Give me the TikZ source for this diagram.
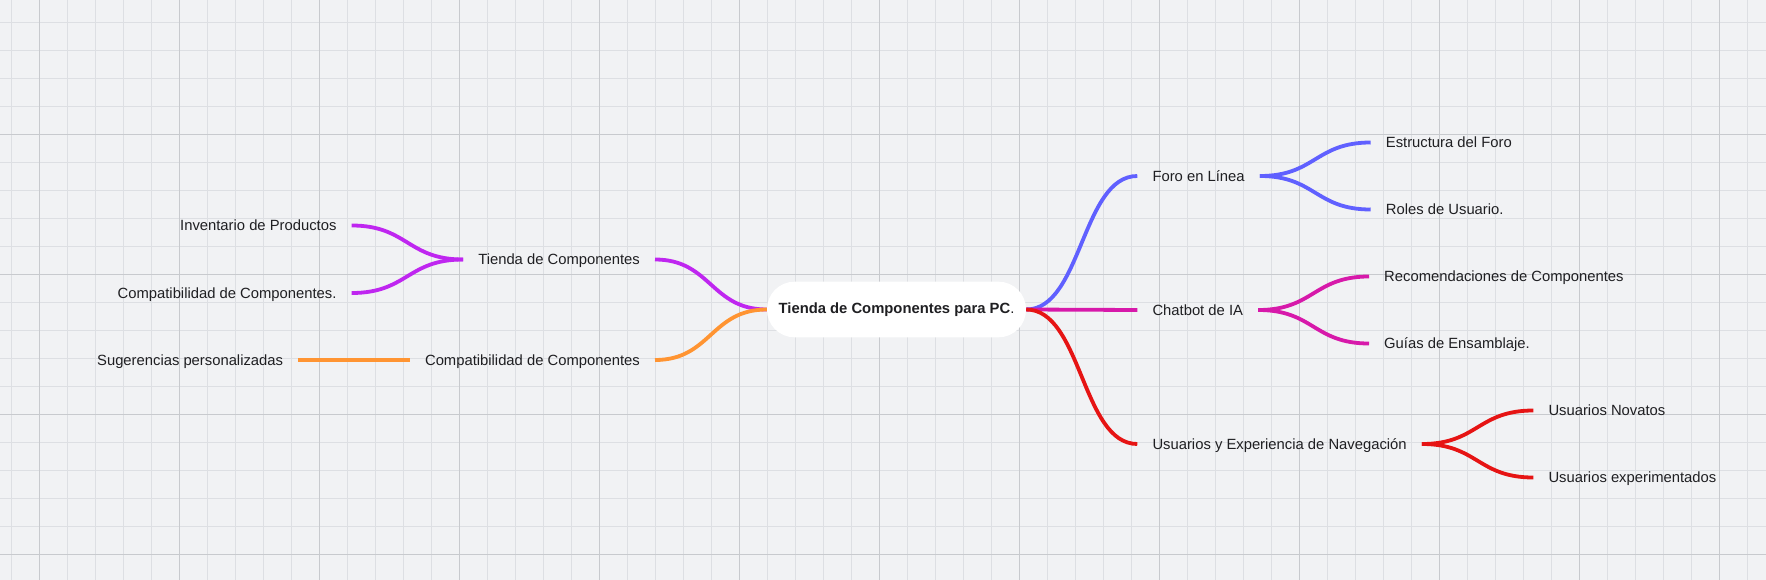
\documentclass[tikz,border=0pt]{standalone}
\usepackage{fontspec}
\setmainfont{Liberation Sans}
\usetikzlibrary{calc}
\definecolor{bgc}{HTML}{F1F2F4}
\definecolor{minorc}{HTML}{DDDFE3}
\definecolor{majorc}{HTML}{C8CACE}
\definecolor{txtc}{HTML}{1F1F22}
\definecolor{cpurple}{RGB}{191,38,240}
\definecolor{corange}{RGB}{255,148,50}
\definecolor{cblue}{RGB}{96,96,255}
\definecolor{cmagenta}{RGB}{215,25,170}
\definecolor{cred}{RGB}{230,20,20}
\tikzset{
  lbl/.style={inner xsep=15pt, inner ysep=0pt, text height=10.5pt, text depth=0pt,
    font=\fontsize{14.8}{17}\selectfont, text=txtc},
  rootbox/.style={fill=white, rounded corners=27.5pt, minimum width=259pt,
    minimum height=55.6pt, inner sep=0pt, font=\fontsize{14.8}{17}\selectfont, text=txtc},
  sc/.style={to path={let \p1=(\tikztostart), \p2=(\tikztotarget) in
    .. controls ({(\x1+\x2)/2},\y1) and ({(\x1+\x2)/2},\y2) .. (\tikztotarget)}},
  conn/.style={line width=3.8pt},
  minorline/.style={draw=minorc, line width=0.9pt},
  majorline/.style={draw=majorc, line width=1.1pt}
}
\begin{document}
\begin{tikzpicture}[x=1pt, y=-1pt]
\useasboundingbox (0,0) rectangle (1766,580);
\fill[bgc] (0,0) rectangle (1766,580);
\foreach \i in {0,...,62} \draw[minorline] ({11.3+28*\i},0) -- ({11.3+28*\i},580);
\foreach \i in {0,...,19} \draw[minorline] (0,{22.3+28*\i}) -- (1766,{22.3+28*\i});
\foreach \i in {0,...,12} \draw[majorline] ({39.3+140*\i},0) -- ({39.3+140*\i},580);
\foreach \i in {0,...,3} \draw[majorline] (0,{134.3+140*\i}) -- (1766,{134.3+140*\i});

% root
\node[rootbox] (root) at (896.5,309.5) {\textbf{Tienda de Componentes para PC}.};

% left side
\node[lbl, anchor=east] (tienda) at (655,259.5) {Tienda de Componentes};
\node[lbl, anchor=east] (compat) at (655,360) {Compatibilidad de Componentes};
\node[lbl, anchor=east] (invent) at (351.7,225.5) {Inventario de Productos};
\node[lbl, anchor=east] (compat2) at (351.7,293) {Compatibilidad de Componentes.};
\node[lbl, anchor=east] (suger) at (298.3,360) {Sugerencias personalizadas};

% right side
\node[lbl, anchor=west] (foro) at (1137.3,176) {Foro en Línea};
\node[lbl, anchor=west] (chat) at (1137.3,310) {Chatbot de IA};
\node[lbl, anchor=west] (usu) at (1137.3,444) {Usuarios y Experiencia de Navegación};
\node[lbl, anchor=west] (estr) at (1370.7,142.5) {Estructura del Foro};
\node[lbl, anchor=west] (roles) at (1370.7,209.5) {Roles de Usuario.};
\node[lbl, anchor=west] (recom) at (1369,276.5) {Recomendaciones de Componentes};
\node[lbl, anchor=west] (guias) at (1369,343.5) {Guías de Ensamblaje.};
\node[lbl, anchor=west] (nov) at (1533.3,410.5) {Usuarios Novatos};
\node[lbl, anchor=west] (exp) at (1533.3,477.5) {Usuarios experimentados};

% connectors
\draw[conn, cpurple] (root.west) to[sc] (tienda.east);
\draw[conn, cpurple] (tienda.west) to[sc] (invent.east);
\draw[conn, cpurple] (tienda.west) to[sc] (compat2.east);
\draw[conn, corange] (root.west) to[sc] (compat.east);
\draw[conn, corange] (compat.west) to[sc] (suger.east);

\draw[conn, cblue] (root.east) to[sc] (foro.west);
\draw[conn, cblue] (foro.east) to[sc] (estr.west);
\draw[conn, cblue] (foro.east) to[sc] (roles.west);
\draw[conn, cmagenta] (root.east) to[sc] (chat.west);
\draw[conn, cmagenta] (chat.east) to[sc] (recom.west);
\draw[conn, cmagenta] (chat.east) to[sc] (guias.west);
\draw[conn, cred] (root.east) to[sc] (usu.west);
\draw[conn, cred] (usu.east) to[sc] (nov.west);
\draw[conn, cred] (usu.east) to[sc] (exp.west);
\end{tikzpicture}
\end{document}
